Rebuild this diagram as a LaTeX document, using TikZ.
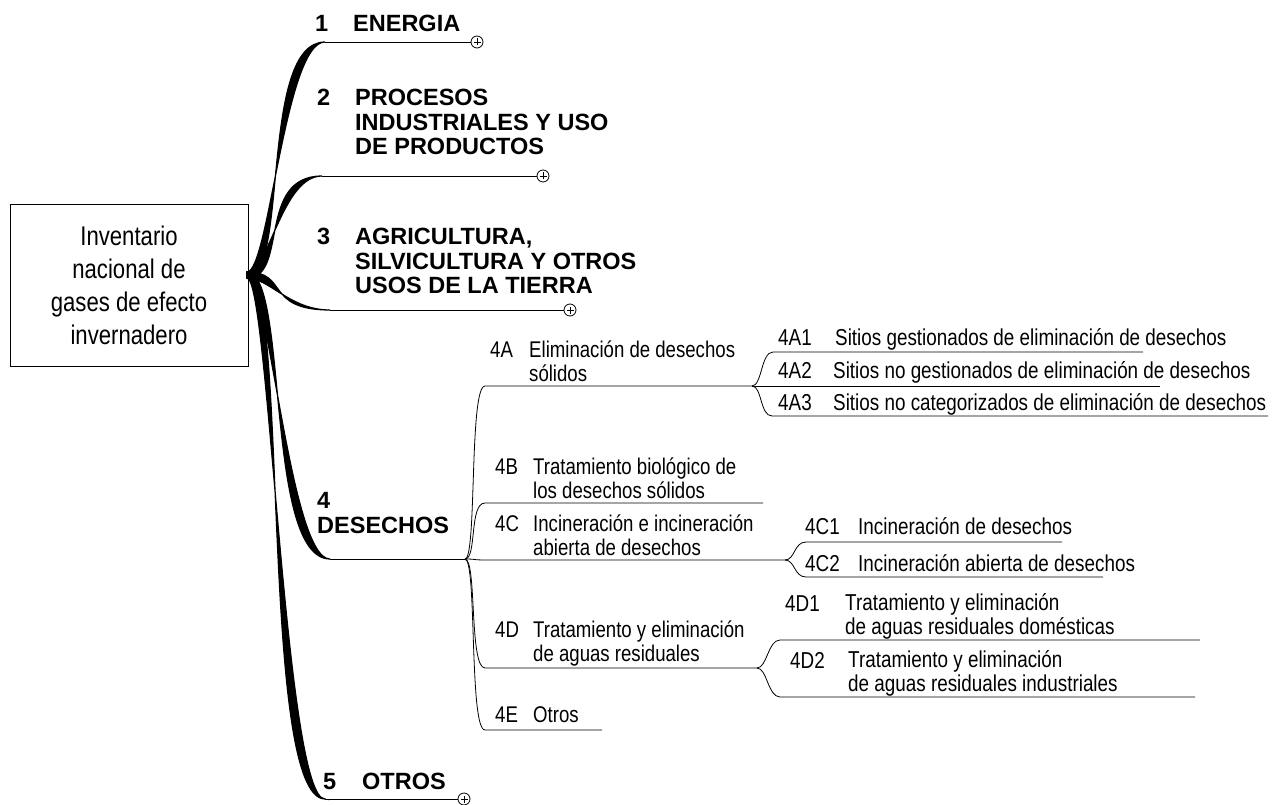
\documentclass[tikz,border=0pt]{standalone}
\usepackage{fontspec}
\setmainfont{Liberation Sans}
\newfontfamily\estrecha{Liberation Sans}[FakeStretch=0.82]
\usetikzlibrary{positioning,calc}

% tronco grueso que se afina hacia la punta
\newcommand{\tronco}[3]{%
  \filldraw[line width=1.2] ($(#1)+(0,#3)$) .. controls +(22,0) and +(-40,0) .. (#2)
     .. controls +(-66,0) and +(42,0) .. ($(#1)-(0,#3)$) -- cycle;}

\tikzset{titulo/.style = {font=\bfseries\fontsize{23.5}{24.5}\selectfont, inner sep=0, align=left, anchor=base west},
         nivel2/.style = {font=\estrecha\fontsize{22.7}{24}\selectfont, inner sep=0, align=left, anchor=base west},
         nivel3/.style = {font=\estrecha\fontsize{23}{23.5}\selectfont, inner sep=0, align=left, anchor=base west},
         rama/.style   = {line width=0.8},
         mas/.style    = {circle, draw, line width=0.8, minimum size=12, inner sep=0,
                          path picture={\draw[line width=0.6]
                            ([xshift=-3.5]path picture bounding box.center) -- ([xshift=3.5]path picture bounding box.center)
                            ([yshift=-3.5]path picture bounding box.center) -- ([yshift=3.5]path picture bounding box.center);}}
        }

\begin{document}
\begin{tikzpicture}[x=1pt, y=-1pt]
  \useasboundingbox (0,0) rectangle (1280,805);

  % raiz
  \node[draw, line width=0.8, minimum width=238, minimum height=162, inner sep=0, align=center,
        font=\estrecha\fontsize{27}{33}\selectfont] (raiz) at (129,285)
        {Inventario\\nacional de\\gases de efecto\\invernadero};
  \coordinate (hub) at (247,275);

  % 1 ENERGIA
  \node[titulo] (n1) at (315,32) {1};
  \node[titulo] (t1) at (353,32) {ENERGIA};
  \coordinate (e1) at (325,42);
  \node[mas] (p1) at (477,42) {};
  \tronco{hub}{e1}{-3}
  \draw[rama] (e1) -- (p1);

  % 2 PROCESOS
  \node[titulo] (n2) at (317,106) {2};
  \node[titulo] (t2) at (355,155) {PROCESOS\\INDUSTRIALES Y USO\\DE PRODUCTOS};
  \coordinate (e2) at (322,176);
  \node[mas] (p2) at (543,176) {};
  \tronco{hub}{e2}{-3}
  \draw[rama] (e2) -- (p2);

  % 3 AGRICULTURA
  \node[titulo] (n3) at (317,245) {3};
  \node[titulo] (t3) at (355,294) {AGRICULTURA,\\SILVICULTURA Y OTROS\\USOS DE LA TIERRA};
  \coordinate (e3) at (330,310);
  \node[mas] (p3) at (570,310) {};
  \tronco{hub}{e3}{3}
  \draw[rama] (e3) -- (p3);

  % 4 DESECHOS
  \node[titulo] (t4) at (317,533) {4\\DESECHOS};
  \coordinate (e4) at (330,559);
  \coordinate (h4) at (465,559);
  \tronco{hub}{e4}{3}
  \draw[rama] (e4) -- (h4);

  % 5 OTROS
  \node[titulo] (n5) at (323,789) {5};
  \node[titulo] (t5) at (362,789) {OTROS};
  \coordinate (e5) at (325,799);
  \node[mas] (p5) at (464,799) {};
  \tronco{hub}{e5}{3}
  \draw[rama] (e5) -- (p5);

  % nivel 2
  \node[nivel2] (n4A) at (490,357) {4A};
  \node[nivel2] (t4A) at (529,381) {Eliminación de desechos\\sólidos};
  \coordinate (s4A) at (485,386);
  \coordinate (h4A) at (752,386);
  \node[nivel2] (n4B) at (495,474) {4B};
  \node[nivel2] (t4B) at (533,498) {Tratamiento biológico de\\los desechos sólidos};
  \coordinate (s4B) at (485,503);
  \coordinate (e4B) at (763,503);
  \node[nivel2] (n4C) at (495,531) {4C};
  \node[nivel2] (t4C) at (533,555) {Incineración e incineración\\abierta de desechos};
  \coordinate (s4C) at (487,560);
  \coordinate (h4C) at (785,560);
  \node[nivel2] (n4D) at (495,637) {4D};
  \node[nivel2] (t4D) at (533,661) {Tratamiento y eliminación\\de aguas residuales};
  \coordinate (s4D) at (485,668);
  \coordinate (h4D) at (757,668);
  \node[nivel2] (n4E) at (495,722) {4E};
  \node[nivel2] (t4E) at (533,722) {Otros};
  \coordinate (s4E) at (485,730);
  \coordinate (e4E) at (602,730);

  \foreach \a/\b in {s4A/h4A, s4B/e4B, s4C/h4C, s4D/h4D, s4E/e4E}
    \draw[rama] (h4) .. controls +(12,0) and +(-16,0) .. (\a) -- (\b);

  % nivel 3
  \node[nivel3] (n4A1) at (778,345) {4A1};
  \node[nivel3] (t4A1) at (835,345) {Sitios gestionados de eliminación de desechos};
  \coordinate (s4A1) at (773,352);
  \coordinate (e4A1) at (1143,352);
  \node[nivel3] (n4A2) at (778,378) {4A2};
  \node[nivel3] (t4A2) at (833,378) {Sitios no gestionados de eliminación de desechos};
  \coordinate (e4A2) at (1160,386);
  \node[nivel3] (n4A3) at (778,410) {4A3};
  \node[nivel3] (t4A3) at (833,410) {Sitios no categorizados de eliminación de desechos};
  \coordinate (s4A3) at (772,416);
  \coordinate (e4A3) at (1268,416);
  \draw[rama] (h4A) -- (e4A2);
  \foreach \a/\b in {s4A1/e4A1, s4A3/e4A3}
    \draw[rama] (h4A) .. controls +(10,0) and +(-12,0) .. (\a) -- (\b);

  \node[nivel3] (n4C1) at (805,534) {4C1};
  \node[nivel3] (t4C1) at (858,534) {Incineración de desechos};
  \coordinate (s4C1) at (806,542);
  \coordinate (e4C1) at (1062,542);
  \node[nivel3] (n4C2) at (805,571) {4C2};
  \node[nivel3] (t4C2) at (858,571) {Incineración abierta de desechos};
  \coordinate (s4C2) at (806,577);
  \coordinate (e4C2) at (1103,577);
  \foreach \a/\b in {s4C1/e4C1, s4C2/e4C2}
    \draw[rama] (h4C) .. controls +(10,0) and +(-12,0) .. (\a) -- (\b);

  \node[nivel3] (n4D1) at (785,611) {4D1};
  \node[nivel3] (t4D1) at (845,634) {Tratamiento y eliminación\\de aguas residuales domésticas};
  \coordinate (s4D1) at (780,640);
  \coordinate (e4D1) at (1200,640);
  \node[nivel3] (n4D2) at (790,668) {4D2};
  \node[nivel3] (t4D2) at (848,691) {Tratamiento y eliminación\\de aguas residuales industriales};
  \coordinate (s4D2) at (780,697);
  \coordinate (e4D2) at (1195,697);
  \foreach \a/\b in {s4D1/e4D1, s4D2/e4D2}
    \draw[rama] (h4D) .. controls +(10,0) and +(-12,0) .. (\a) -- (\b);
\end{tikzpicture}
\end{document}
